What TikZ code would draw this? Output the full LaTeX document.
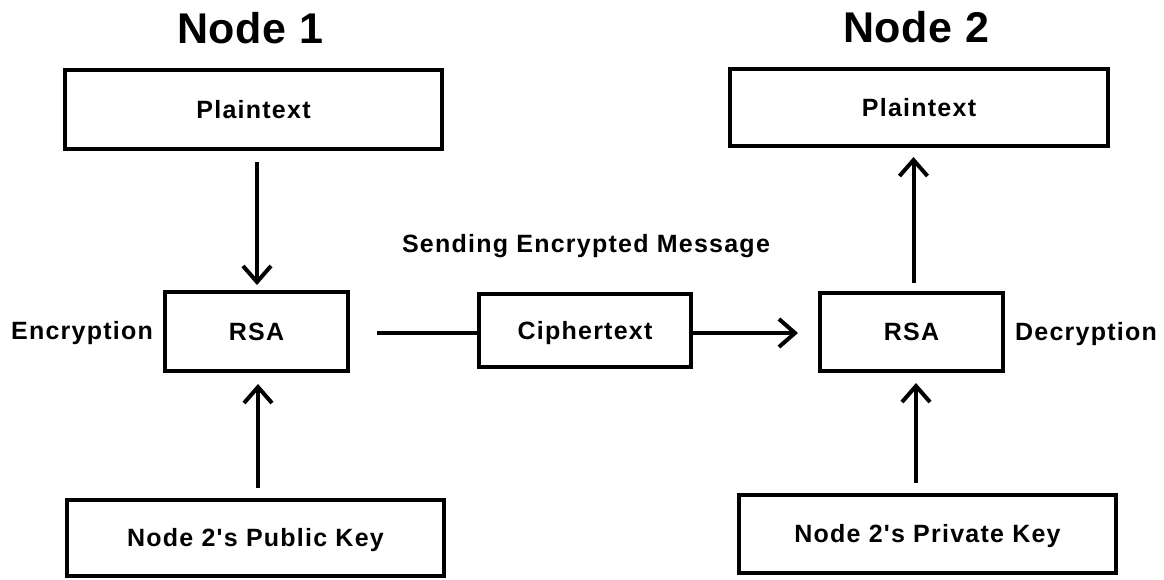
\documentclass[tikz,border=0pt]{standalone}
\usepackage{fontspec}
\setmainfont{Liberation Sans}
\newfontfamily\labelfont[LetterSpace=5]{Liberation Sans}
\newfontfamily\titlefont[LetterSpace=1.5]{Liberation Sans}
\usetikzlibrary{arrows.meta}

\tikzset{
  box/.style={draw, line width=4pt, outer sep=0pt, inner sep=0pt,
    font=\labelfont\bfseries\fontsize{25}{28}\selectfont,
    text height=17.9pt, text depth=0pt},
  lbl/.style={anchor=base, inner sep=0pt,
    font=\labelfont\bfseries\fontsize{25}{28}\selectfont},
  ttl/.style={anchor=base, inner sep=0pt,
    font=\titlefont\bfseries\fontsize{43}{48}\selectfont},
  link/.style={line width=4pt},
  arr/.style={line width=4pt,
    -{Straight Barb[length=16pt,width=28pt,line width=4pt]}}
}

\begin{document}
\begin{tikzpicture}[x=1pt,y=-1pt]
  \useasboundingbox (0,0) rectangle (1164,579);

  % titles
  \node[ttl] (t1) at (250,43) {Node 1};
  \node[ttl] (t2) at (916,42) {Node 2};

  % sender side
  \node[box, minimum width=377pt, minimum height=79pt] (pt1) at (253.5,109.5) {Plaintext};
  \node[box, minimum width=183pt, minimum height=79pt] (rsa1) at (256.5,331.5) {RSA};
  \node[box, minimum width=377pt, minimum height=76pt] (pk1) at (255.5,538) {Node 2's Public Key};
  \node[lbl] (enc) at (82,339) {Encryption};

  % channel
  \node[box, minimum width=212pt, minimum height=73pt] (ct) at (585,330.5) {Ciphertext};
  \node[lbl] (send) at (586,252) {Sending Encrypted Message};

  % receiver side
  \node[box, minimum width=378pt, minimum height=77pt] (pt2) at (919,107.5) {Plaintext};
  \node[box, minimum width=183pt, minimum height=78pt] (rsa2) at (911.5,332) {RSA};
  \node[box, minimum width=377pt, minimum height=78pt] (pk2) at (927.5,534) {Node 2's Private Key};
  \node[lbl] (dec) at (1086,340) {Decryption};

  % arrow columns and channel row
  \coordinate (cA) at (257,0);
  \coordinate (cB) at (258,0);
  \coordinate (cC) at (913.5,0);
  \coordinate (cD) at (916,0);
  \coordinate (row) at (0,333);

  \draw[arr, shorten <=13pt, shorten >=7pt] (pt1.south -| cA) -- (rsa1.north -| cA);
  \draw[arr, shorten <=12pt, shorten >=13pt] (pk1.north -| cB) -- (rsa1.south -| cB);
  \draw[arr, shorten <=10pt, shorten >=11pt] (rsa2.north -| cC) -- (pt2.south -| cC);
  \draw[arr, shorten <=12pt, shorten >=12pt] (pk2.north -| cD) -- (rsa2.south -| cD);

  \draw[link, shorten <=29pt] (rsa1.east |- row) -- (ct.west |- row);
  \draw[arr, shorten >=22pt] (ct.east |- row) -- (rsa2.west |- row);
\end{tikzpicture}
\end{document}
